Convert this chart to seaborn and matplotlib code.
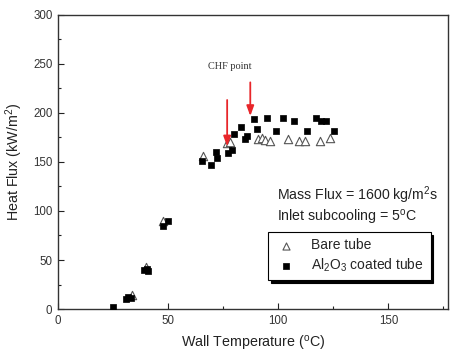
import matplotlib
matplotlib.use("Agg")
import matplotlib.pyplot as plt
import seaborn as sns
import pandas as pd
from matplotlib.ticker import MultipleLocator

# Data
bare_T = [33.5, 40.0, 47.9, 66.0, 76.7, 78.2, 90.6, 92.7, 93.8, 96.4, 104.4, 109.2, 112.0, 119.1, 123.6]
bare_q = [14.0, 43.0, 90.0, 156.0, 169.0, 170.0, 173.0, 174.0, 172.5, 171.5, 173.0, 171.5, 171.5, 171.5, 174.0]

coat_T = [25.1, 31.0, 32.0, 33.0, 39.0, 40.3, 41.0, 47.9, 50.1,
          65.6, 69.5, 71.8, 72.1, 77.1, 79.0, 80.0, 83.2, 85.0, 85.6,
          89.0, 90.3, 94.9, 99.0, 102.1, 107.0, 113.0, 117.3, 119.4, 121.7, 125.5]
coat_q = [2.0, 10.0, 12.5, 11.0, 40.0, 41.0, 39.0, 85.0, 90.0,
          151.3, 146.9, 160.5, 153.8, 158.9, 162.2, 178.6, 185.4, 173.2, 176.5,
          193.6, 183.7, 195.2, 181.6, 195.2, 191.8, 181.6, 195.2, 192.1, 191.8, 181.6]

bare_df = pd.DataFrame({"T": bare_T, "q": bare_q})
coat_df = pd.DataFrame({"T": coat_T, "q": coat_q})

sns.set_style("white")
plt.rcParams["font.family"] = ["Liberation Sans", "DejaVu Sans"]
plt.rcParams["mathtext.fontset"] = "custom"
plt.rcParams["mathtext.rm"] = "Liberation Sans"
plt.rcParams["mathtext.it"] = "Liberation Sans"

fig = plt.figure(figsize=(4.51, 3.54), dpi=100)
ax = fig.add_axes([0.1286, 0.127, 0.8644, 0.831])

sns.scatterplot(data=bare_df, x="T", y="q", ax=ax, marker="^", s=36,
                facecolor="white", edgecolor="#555555", linewidth=0.8,
                label="Bare tube", zorder=2)
sns.scatterplot(data=coat_df, x="T", y="q", ax=ax, marker="s", s=18,
                color="black", edgecolor="black", linewidth=0.5,
                label="Al$_2$O$_3$ coated tube", zorder=3)

ax.set_xlim(0, 177)
ax.set_ylim(0, 300)
ax.xaxis.set_major_locator(MultipleLocator(50))
ax.xaxis.set_minor_locator(MultipleLocator(25))
ax.yaxis.set_major_locator(MultipleLocator(50))
ax.yaxis.set_minor_locator(MultipleLocator(25))
ax.tick_params(which="both", direction="in", bottom=True, left=True,
               colors="#222222", labelcolor="#333333", labelsize=8.3)
ax.tick_params(which="major", length=4, width=0.8)
ax.tick_params(which="minor", length=2.5, width=0.8)
ax.tick_params(axis="x", pad=4)
ax.tick_params(axis="y", pad=4)
for sp in ax.spines.values():
    sp.set_color("#333333")
    sp.set_linewidth(1.0)

ax.set_xlabel("Wall Temperature ($^{\\rm o}$C)", fontsize=10.3, color="#222222", labelpad=5)
ax.set_ylabel("Heat Flux (kW/m$^2$)", fontsize=10.3, color="#222222", labelpad=6)

ax.text(78, 247, "CHF point", fontsize=7.4, family="Liberation Serif",
        ha="center", va="center", color="#333333")
for x0, y0, y1 in [(76.8, 216, 163), (87.3, 234, 194)]:
    ax.annotate("", xy=(x0, y1), xytext=(x0, y0),
                arrowprops=dict(arrowstyle="-|>,head_length=0.6,head_width=0.22",
                                color="#e8262a", lw=1.3))

ax.text(99.5, 116, "Mass Flux = 1600 kg/m$^2$s", fontsize=10.2, color="#222222", va="center")
ax.text(99.5, 93, "Inlet subcooling = 5$^{\\rm o}$C", fontsize=10.2, color="#222222", va="center")

leg = ax.legend(loc="upper left", bbox_to_anchor=(0.538, 0.262), fontsize=10,
                frameon=True, fancybox=False, shadow={"color": "black", "alpha": 1},
                borderpad=0.45, handletextpad=0.9, labelspacing=0.3, handlelength=1.8,
                borderaxespad=0, markerscale=0.85)
leg.get_frame().set_edgecolor("black")
leg.get_frame().set_linewidth(0.8)

fig.savefig("out.png", dpi=100)
